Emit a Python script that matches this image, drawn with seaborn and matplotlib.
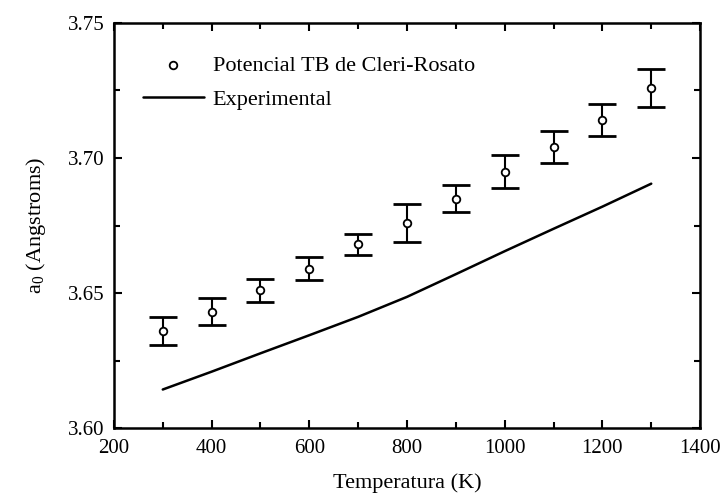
import matplotlib
matplotlib.use("Agg")
import matplotlib.pyplot as plt
import seaborn as sns
import pandas as pd
from matplotlib.ticker import MultipleLocator, FormatStrFormatter

# Data
temps = [300, 400, 500, 600, 700, 800, 900, 1000, 1100, 1200, 1300]
a0_tb = [3.636, 3.643, 3.651, 3.659, 3.668, 3.676, 3.685, 3.695, 3.704, 3.714, 3.726]
a0_err = [0.0053, 0.005, 0.0042, 0.0042, 0.004, 0.007, 0.005, 0.0062, 0.006, 0.006, 0.007]
a0_exp = [3.6143, 3.6209, 3.6277, 3.6344, 3.6412, 3.6486, 3.6570, 3.6655, 3.6738, 3.6820, 3.6905]

df_tb = pd.DataFrame({"T": temps, "a0": a0_tb, "err": a0_err})
df_exp = pd.DataFrame({"T": temps, "a0": a0_exp})

sns.set_style("ticks")
plt.rcParams["font.family"] = ["Liberation Serif", "DejaVu Serif"]
plt.rcParams["mathtext.fontset"] = "custom"
plt.rcParams["mathtext.rm"] = "Liberation Serif"
plt.rcParams["mathtext.it"] = "Liberation Serif"
plt.rcParams["text.color"] = "black"
plt.rcParams["axes.labelcolor"] = "black"
plt.rcParams["xtick.color"] = "black"
plt.rcParams["ytick.color"] = "black"
plt.rcParams["axes.edgecolor"] = "black"

fig = plt.figure(figsize=(7.21, 4.99), dpi=100)
ax = fig.add_axes([0.158, 0.142, 0.813, 0.812])

ax.errorbar(df_tb["T"], df_tb["a0"], yerr=df_tb["err"], fmt="none",
            ecolor="black", elinewidth=1.5, capsize=10, capthick=2, zorder=2)
sns.scatterplot(data=df_tb, x="T", y="a0", ax=ax, marker="o", s=30,
                facecolor="white", edgecolor="black", linewidth=1.3, zorder=3,
                label="Potencial TB de Cleri-Rosato")
sns.lineplot(data=df_exp, x="T", y="a0", ax=ax, color="black", linewidth=1.8,
             label="Experimental")

ax.set_xlim(200, 1400)
ax.set_ylim(3.60, 3.75)
ax.xaxis.set_major_locator(MultipleLocator(200))
ax.xaxis.set_minor_locator(MultipleLocator(100))
ax.yaxis.set_major_locator(MultipleLocator(0.05))
ax.yaxis.set_minor_locator(MultipleLocator(0.025))
ax.yaxis.set_major_formatter(FormatStrFormatter("%.2f"))
ax.tick_params(which="both", direction="in", top=True, right=True, width=1.5)
ax.tick_params(which="major", length=6, labelsize=15)
ax.tick_params(which="minor", length=4)
ax.tick_params(axis="y", which="major", pad=7)
ax.tick_params(axis="x", which="major", pad=8)
for sp in ax.spines.values():
    sp.set_linewidth(1.8)
    sp.set_visible(True)

ax.set_xlabel("Temperatura (K)", fontsize=16, labelpad=11)
ax.set_ylabel("a$_0$ (Angstroms)", fontsize=16, labelpad=14)

leg = ax.legend(loc="upper left", frameon=False, fontsize=16,
                handlelength=2.75, borderaxespad=0, borderpad=0,
                labelspacing=0.62, handletextpad=0.4,
                bbox_to_anchor=(0.049, 0.92))

fig.savefig("out.png", dpi=100)
